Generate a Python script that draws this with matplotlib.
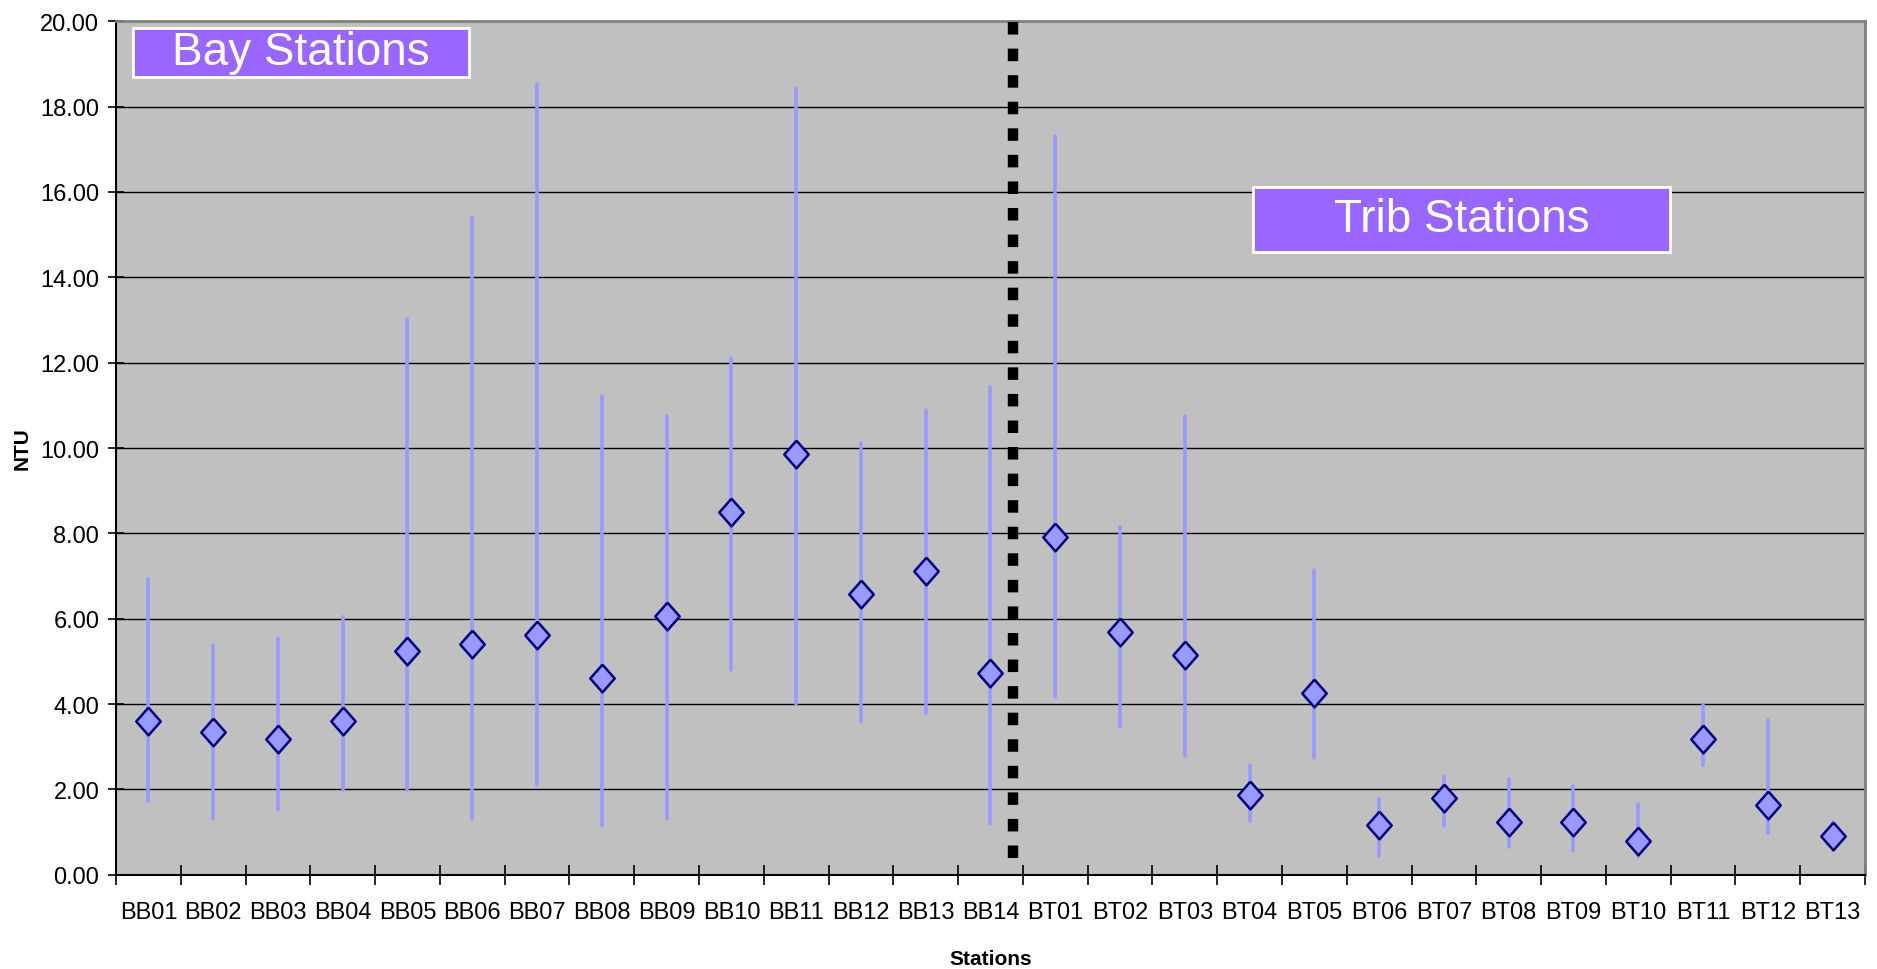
import matplotlib
matplotlib.use("Agg")
import matplotlib.pyplot as plt
from matplotlib.patches import Rectangle
from matplotlib.ticker import FixedLocator, FormatStrFormatter

# station names
bay = ["BB%02d" % i for i in range(1, 15)]
trib = ["BT%02d" % i for i in range(1, 14)]
stations = bay + trib

# mean turbidity (NTU) and min / max range per station
means = [3.60, 3.34, 3.18, 3.60, 5.25, 5.41, 5.62, 4.61, 6.06, 8.49, 9.87, 6.58, 7.12, 4.73,
         7.91, 5.68, 5.15, 1.87, 4.25, 1.17, 1.80, 1.23, 1.23, 0.80, 3.18, 1.64, 0.90]
highs = [6.93, 5.39, 5.54, 6.03, 13.02, 15.41, 18.53, 11.23, 10.76, 12.12, 18.43, 10.11, 10.90, 11.44,
         17.32, 8.14, 10.74, 2.57, 7.14, 1.77, 2.31, 2.24, 2.09, 1.66, 3.98, 3.63, 1.24]
lows = [1.72, 1.30, 1.51, 1.99, 1.99, 1.30, 2.10, 1.14, 1.30, 4.80, 4.00, 3.57, 3.78, 1.19,
        4.16, 3.47, 2.79, 1.25, 2.73, 0.45, 1.15, 0.66, 0.56, 0.41, 2.58, 0.98, 0.80]

# divider between bay and trib groups
divider_pos = 13.35
divider_range = (0.4, 20.2)

yticks = [0, 2, 4, 6, 8, 10, 12, 14, 16, 18, 20]

plt.rcParams['font.family'] = ['Liberation Sans', 'DejaVu Sans']
narrow = ['Liberation Sans Narrow', 'Liberation Sans', 'DejaVu Sans']

fig = plt.figure(figsize=(18.77, 9.70), dpi=100)
ax = fig.add_axes([0.0618, 0.0972, 0.9318, 0.8798])
ax.set_facecolor("#C0C0C0")

x = list(range(len(stations)))

# grid
for yv in yticks[1:-1]:
    ax.axhline(yv, color="black", lw=1.0, zorder=1)

# ranges
ax.vlines(x, lows, highs, colors="#9999FF", lw=2.6, zorder=2, capstyle="round")

# means
diamond = [(0, 1), (0.88, 0), (0, -1), (-0.88, 0), (0, 1)]
ax.plot(x, means, linestyle="none", marker=diamond, markersize=20,
        markerfacecolor="#9999FF", markeredgecolor="#000080", markeredgewidth=1.8, zorder=4)

# dotted divider
ax.plot([divider_pos, divider_pos], divider_range, color="black", lw=7.5,
        linestyle=(0, (1.2, 1.35)), dash_capstyle="butt", clip_on=False, zorder=5)

ax.set_xlim(-0.5, len(stations) - 0.5)
ax.set_ylim(0, 20)

ax.set_xticks(x)
ax.set_xticklabels(stations, fontsize=17, family=narrow)
ax.xaxis.set_minor_locator(FixedLocator([i - 0.5 for i in range(len(stations) + 1)]))
ax.tick_params(axis="x", which="major", length=0, pad=19)
ax.tick_params(axis="x", which="minor", length=14, width=1.2, direction="inout", color="black")

ax.set_yticks(yticks)
ax.yaxis.set_major_formatter(FormatStrFormatter("%.2f"))
ax.tick_params(axis="y", length=11, width=1.2, direction="inout", pad=6.5)
for lbl in ax.get_yticklabels():
    lbl.set_family(narrow)
    lbl.set_fontsize(17)

for side in ["left", "bottom"]:
    ax.spines[side].set_color("black")
    ax.spines[side].set_linewidth(1.5)
for side in ["top", "right"]:
    ax.spines[side].set_color("#808080")
    ax.spines[side].set_linewidth(2)

ax.set_xlabel("Stations", fontsize=15, fontweight="bold")
ax.xaxis.set_label_coords(0.5, -0.087)
ax.set_ylabel("NTU", fontsize=15, fontweight="bold")
ax.yaxis.set_label_coords(-0.048, 0.5)

# group labels
boxes = [("Bay Stations", 0.0095, 0.9353, 0.1923, 0.0567),
         ("Trib Stations", 0.650, 0.7297, 0.2385, 0.0763)]
for label, bx, by, bw, bh in boxes:
    ax.add_patch(Rectangle((bx, by), bw, bh, transform=ax.transAxes, facecolor="#9966FF",
                           edgecolor="white", lw=2, zorder=6))
    ax.text(bx + bw / 2, by + bh / 2, label, transform=ax.transAxes, ha="center", va="center",
            color="white", fontsize=33, zorder=7)

fig.savefig("out.png", dpi=100)
